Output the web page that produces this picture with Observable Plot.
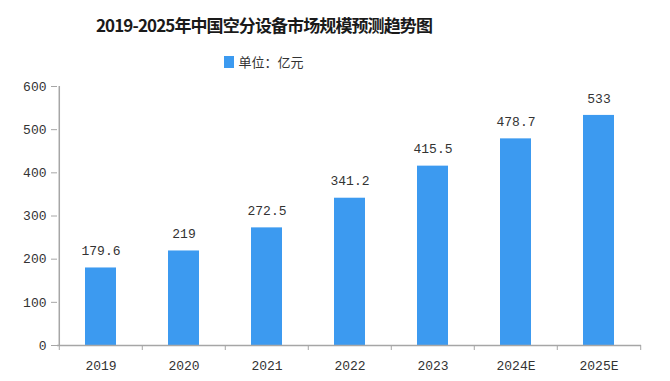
<!DOCTYPE html>
<html>
<head>
<meta charset="utf-8">
<script src="https://cdn.jsdelivr.net/npm/d3@7"></script>
<script src="https://cdn.jsdelivr.net/npm/@observablehq/plot@0.6"></script>
<style>
  html, body { margin: 0; padding: 0; background: #fff; }
  #wrap { position: relative; width: 670px; height: 381px; overflow: hidden; }
  #title { position: absolute; left: 0; top: 12px; width: 528px; text-align: center;
    font-family: "Noto Sans CJK SC", sans-serif; font-weight: bold; font-size: 17px; letter-spacing: -0.9px; line-height: 26px; color: #1a1a1a; }
  #legend { position: absolute; left: 0; top: 52px; width: 528px; text-align: center;
    font-family: "Noto Sans CJK SC", sans-serif; font-size: 13px; line-height: 20px; color: #333; }
  #legend .sw { display: inline-block; width: 10px; height: 12px; background: #3c9af0; vertical-align: -1px; margin-right: 4px; }
  #chart { position: absolute; left: 0; top: 78px; }
</style>
</head>
<body>
<div id="wrap">
  <div id="title">2019-2025年中国空分设备市场规模预测趋势图</div>
  <div id="legend"><span class="sw"></span>单位：亿元</div>
  <div id="chart"></div>
</div>
<script>
const categories = ["2019", "2020", "2021", "2022", "2023", "2024E", "2025E"];
const values = [179.6, 219, 272.5, 341.2, 415.5, 478.7, 533];
const valueLabels = ["179.6", "219", "272.5", "341.2", "415.5", "478.7", "533"];
const yTicks = [0, 100, 200, 300, 400, 500, 600];

const data = categories.map((c, i) => ({category: c, value: values[i], label: valueLabels[i]}));

const W = 670, H = 303;
const mL = 57, mR = 29, mT = 8, mB = 36;
const step = (W - mL - mR) / categories.length;
const axisColor = "#a6a6a6";
const font = "Liberation Mono, DejaVu Sans Mono, monospace";

const chart = Plot.plot({
  width: W,
  height: H,
  marginLeft: mL,
  marginRight: mR,
  marginTop: mT,
  marginBottom: mB,
  style: {fontFamily: font, fontSize: "13px", color: "#333", background: "#fff"},
  x: {domain: categories, paddingInner: 0.63, paddingOuter: 0.315, label: null},
  y: {domain: [0, 600], label: null},
  marks: [
    Plot.barY(data, {x: "category", y: "value", fill: "#3c9af0"}),
    Plot.text(data, {x: "category", y: "value", text: "label", dy: -17, fill: "#333", fontSize: 13}),
    Plot.axisY({ticks: yTicks, tickSize: 6, tickPadding: 5, stroke: axisColor, fill: "#333", tickFormat: d => String(d), label: null}),
    Plot.ruleX([categories[0]], {y1: 0, y2: 600, dx: -step / 2, stroke: axisColor, strokeWidth: 1.5}),
    Plot.ruleY([0], {stroke: axisColor, strokeWidth: 1.5}),
    Plot.axisX({tickSize: 0, tickPadding: 15, fill: "#333", label: null}),
    Plot.axisX({tickSize: 5, tickFormat: () => "", dx: -step / 2, stroke: axisColor, label: null}),
    Plot.axisX([categories[categories.length - 1]], {tickSize: 5, tickFormat: () => "", dx: step / 2, stroke: axisColor, label: null})
  ]
});
document.getElementById("chart").appendChild(chart);
</script>
</body>
</html>
